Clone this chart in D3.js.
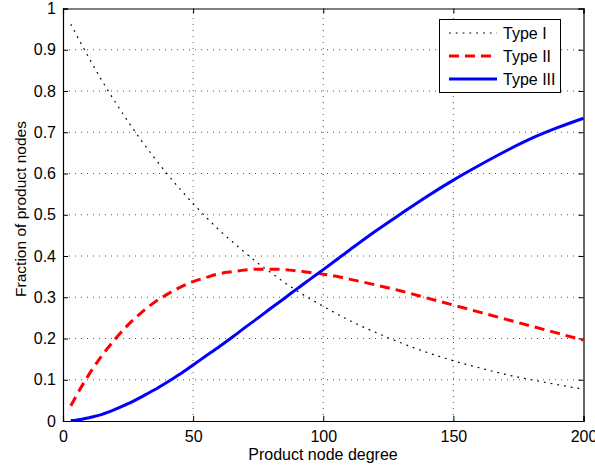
<!DOCTYPE html>
<html><head><meta charset="utf-8">
<script src="https://cdn.jsdelivr.net/npm/d3@7"></script>
<style>body{margin:0;background:#fff}svg text{font-family:"Liberation Sans",Arial,Helvetica,sans-serif}</style>
</head><body><svg id="c" width="595" height="467"></svg>
<script>
const degree = [3,5,10,15,20,25,30,35,40,45,50,55,60,65,70,75,80,85,90,95,100,110,120,130,140,150,160,170,180,190,200];
const typeI  = [0.962,0.938,0.880,0.825,0.774,0.726,0.681,0.639,0.599,0.562,0.527,0.494,0.463,0.435,0.408,0.382,0.359,0.336,0.315,0.296,0.278,0.244,0.215,0.189,0.166,0.146,0.129,0.113,0.100,0.088,0.077];
const typeII = [0.037,0.060,0.113,0.159,0.198,0.233,0.262,0.287,0.307,0.324,0.338,0.348,0.357,0.362,0.366,0.368,0.368,0.367,0.364,0.360,0.356,0.344,0.330,0.315,0.298,0.281,0.264,0.247,0.230,0.213,0.196];
const typeIII= [0.001,0.002,0.008,0.016,0.028,0.042,0.058,0.075,0.094,0.114,0.136,0.158,0.180,0.203,0.227,0.250,0.274,0.297,0.321,0.344,0.367,0.414,0.460,0.503,0.545,0.584,0.620,0.654,0.685,0.711,0.734];
const xTicks = [0,50,100,150,200];
const yTicks = [0,0.1,0.2,0.3,0.4,0.5,0.6,0.7,0.8,0.9,1];
const seriesNames = ["Type I","Type II","Type III"];

const svg = d3.select("#c");
const L=63, R=583.5, T=8.5, B=421;
const x = d3.scaleLinear().domain([0,200]).range([L,R]);
const y = d3.scaleLinear().domain([0,1]).range([B,T]);

// grid
const g = svg.append("g");
g.selectAll(".gx").data(xTicks.slice(1,-1)).enter().append("line")
 .attr("x1",d=>x(d)).attr("x2",d=>x(d)).attr("y1",B).attr("y2",T)
 .attr("stroke","#555").attr("stroke-width",1).attr("stroke-dasharray","1,5");
g.selectAll(".gy").data(yTicks.slice(1,-1)).enter().append("line")
 .attr("y1",d=>y(d)).attr("y2",d=>y(d)).attr("x1",L).attr("x2",R)
 .attr("stroke","#555").attr("stroke-width",1).attr("stroke-dasharray","1,5");

// axes
const fmt = d3.format("~g");
svg.append("g").attr("transform",`translate(0,${B})`)
 .call(d3.axisBottom(x).tickValues(xTicks).tickSize(-5).tickPadding(10).tickFormat(fmt));
svg.append("g").attr("transform",`translate(${L},0)`)
 .call(d3.axisLeft(y).tickValues(yTicks).tickSize(-5).tickPadding(7).tickFormat(fmt));
svg.append("g").attr("transform",`translate(0,${T})`)
 .call(d3.axisTop(x).tickValues(xTicks).tickSize(-5).tickFormat(""));
svg.append("g").attr("transform",`translate(${R},0)`)
 .call(d3.axisRight(y).tickValues(yTicks).tickSize(-5).tickFormat(""));
svg.selectAll(".domain").attr("stroke","#000").attr("stroke-width",1.2);
svg.selectAll(".tick line").attr("stroke","#000");
svg.selectAll(".tick text").attr("font-size",16).attr("fill","#000");

// lines
const line = d3.line().x((d,i)=>x(degree[i])).y(d=>y(d)).curve(d3.curveMonotoneX);
svg.append("path").datum(typeI).attr("d",line).attr("fill","none")
 .attr("stroke","#000").attr("stroke-width",1.2).attr("stroke-dasharray","1.8,5");
svg.append("path").datum(typeII).attr("d",line).attr("fill","none")
 .attr("stroke","#ff0000").attr("stroke-width",3).attr("stroke-dasharray","10,6");
svg.append("path").datum(typeIII).attr("d",line).attr("fill","none")
 .attr("stroke","#0000ff").attr("stroke-width",3);

// labels
svg.append("text").attr("x",323).attr("y",460).attr("text-anchor","middle")
 .attr("font-size",16).text("Product node degree");
svg.append("text").attr("transform",`translate(25.5,209) rotate(-90)`)
 .attr("text-anchor","middle").attr("font-size",15.5).text("Fraction of product nodes");

// legend
const lg = svg.append("g");
lg.append("rect").attr("x",439.5).attr("y",19.5).attr("width",121).attr("height",73)
 .attr("fill","#fff").attr("stroke","#000").attr("stroke-width",1);
const styles = [
 {c:"#000",w:1.2,d:"1.8,5"},
 {c:"#ff0000",w:3,d:"10,6"},
 {c:"#0000ff",w:3,d:null}];
const ly = [33,56,79];
seriesNames.forEach((n,i)=>{
  const l = lg.append("line").attr("x1",449).attr("x2",497).attr("y1",ly[i]).attr("y2",ly[i])
   .attr("stroke",styles[i].c).attr("stroke-width",styles[i].w);
  if(styles[i].d) l.attr("stroke-dasharray",styles[i].d);
  lg.append("text").attr("x",503).attr("y",ly[i]+5.5).attr("font-size",16).text(n);
});
</script></body></html>
